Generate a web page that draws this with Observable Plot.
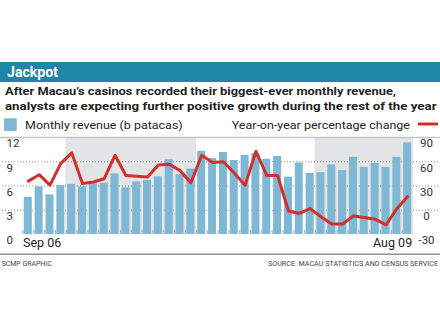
<!DOCTYPE html>
<html>
<head>
<meta charset="utf-8">
<script src="https://cdn.jsdelivr.net/npm/d3@7"></script>
<script src="https://cdn.jsdelivr.net/npm/@observablehq/plot@0.6"></script>
<style>
  html, body { margin: 0; padding: 0; background: #fff; }
  #wrap { position: relative; width: 440px; height: 330px; overflow: hidden; background: #fff; font-family: Roboto, "Noto Sans", sans-serif; }
  #wrap > svg { position: absolute; left: 0; }
</style>
</head>
<body>
<div id="wrap">
  <svg id="head" width="440" height="136" style="top:0">
    <rect x="0" y="62" width="440" height="20" fill="#1f87a6"></rect>
    <text x="7" y="77" font-size="14.5" font-weight="bold" fill="#fff" textLength="51" lengthAdjust="spacingAndGlyphs">Jackpot</text>
    <text x="5" y="95" font-size="11.5" font-weight="bold" fill="#231f20" textLength="391" lengthAdjust="spacingAndGlyphs">After Macau’s casinos recorded their biggest-ever monthly revenue,</text>
    <text x="5" y="110" font-size="11.5" font-weight="bold" fill="#231f20" textLength="431.5" lengthAdjust="spacingAndGlyphs">analysts are expecting further positive growth during the rest of the year</text>
    <rect x="4" y="118.3" width="12.7" height="12.7" fill="#7fb8d5"></rect>
    <text x="25" y="129" font-size="11.5" fill="#231f20" textLength="157.7" lengthAdjust="spacingAndGlyphs">Monthly revenue (b patacas)</text>
    <text x="231.7" y="129" font-size="11.5" fill="#231f20" textLength="178.3" lengthAdjust="spacingAndGlyphs">Year-on-year percentage change</text>
    <line x1="418" x2="438" y1="124" y2="124" stroke="#d3302b" stroke-width="3"></line>
  </svg>
  <div id="chart" style="position:absolute;left:0;top:130px;"></div>
  <svg id="foot" width="440" height="80" style="top:250px">
    <line x1="0" x2="440" y1="4.3" y2="4.3" stroke="#8f8f8f" stroke-width="1.5"></line>
    <text x="1.7" y="15.7" font-size="6.8" fill="#444" textLength="50" lengthAdjust="spacingAndGlyphs">SCMP GRAPHIC</text>
    <text x="268" y="15.7" font-size="6.8" fill="#444" textLength="170" lengthAdjust="spacingAndGlyphs">SOURCE: MACAU STATISTICS AND CENSUS SERVICE</text>
  </svg>
</div>
<script>
// ---- data ----
const months = [
  "Sep 06","Oct 06","Nov 06","Dec 06",
  "Jan 07","Feb 07","Mar 07","Apr 07","May 07","Jun 07","Jul 07","Aug 07","Sep 07","Oct 07","Nov 07","Dec 07",
  "Jan 08","Feb 08","Mar 08","Apr 08","May 08","Jun 08","Jul 08","Aug 08","Sep 08","Oct 08","Nov 08","Dec 08",
  "Jan 09","Feb 09","Mar 09","Apr 09","May 09","Jun 09","Jul 09","Aug 09"
];
const revenue = [
  4.6, 5.9, 4.9, 6.05,
  6.2, 5.9, 6.35, 6.35, 7.5, 5.75, 6.5, 6.7, 7.15, 9.25, 7.4, 8.1,
  10.3, 9.4, 10.15, 9.15, 9.8, 10.0, 9.3, 9.65, 7.1, 8.85, 7.55, 7.65,
  8.6, 7.9, 9.55, 8.3, 8.8, 8.3, 9.55, 11.35
];
const yoyChange = [
  36, 44, 31, 58,
  71, 33, 35, 39, 68, 43, 42, 41, 56, 57, 49, 34,
  68, 59, 60, 46, 31, 73, 43, 43, -1, -4, 2, -8,
  -17, -17, -7, -9, -11, -18, 2, 17
];
const revTicks = [12, 9, 6, 3, 0];
const pctTicks = [90, 60, 30, 0, -30];
const gridLevels = [9, 6, 3];
const topLevel = [12];
const shadeSpans = [["Jan 07", "Dec 07"], ["Dec 08", "Aug 09"]];
const firstLabel = ["Sep 06"];
const lastLabel = ["Aug 09"];

// ---- build table ----
const table = months.map((m, i) => ({month: m, rev: revenue[i], pct: yoyChange[i]}));
const pctToRev = p => (p + 30) / 10; // right axis (-30..90) shares the left axis (0..12)
const shaded = months.filter((m, i) =>
  shadeSpans.some(([a, b]) => i >= months.indexOf(a) && i <= months.indexOf(b)));

const W = 440, H = 125, mL = 21, mR = 26, mT = 7, mB = 21;
const pad = 0.26;
const step = (W - mL - mR) / (months.length + pad);
const bw = step * (1 - pad);

const chart = Plot.plot({
  width: W, height: H,
  marginLeft: mL, marginRight: mR, marginTop: mT, marginBottom: mB,
  x: {type: "band", domain: months, padding: pad, round: false, axis: null},
  y: {domain: [0, 12], axis: null},
  style: {fontFamily: "Roboto, 'Noto Sans', sans-serif", fontSize: "11.5px", color: "#231f20", background: "transparent"},
  marks: [
    Plot.barY(shaded, {x: d => d, y1: 0, y2: 12, fill: "#e3e4e5",
      insetLeft: -step * pad / 2 - 0.4, insetRight: -step * pad / 2 - 0.4}),
    Plot.ruleY(topLevel, {stroke: "#c4c4c4", strokeWidth: 1.5, insetLeft: -mL, insetRight: -mR}),
    Plot.ruleY(gridLevels, {stroke: "#8a8a8a", strokeDasharray: "1,2", insetLeft: -(mL - 2), insetRight: -(mR - 2)}),
    Plot.barY(table, {x: "month", y: "rev", fill: "#7fb8d5"}),
    Plot.ruleX(months, {x: d => d, y1: 0, y2: 0.5, dx: -step / 2, stroke: "#a8a8a8"}),
    Plot.line(table, {x: "month", y: d => pctToRev(d.pct), stroke: "#d3302b", strokeWidth: 3, strokeLinejoin: "round"}),
    Plot.text(revTicks, {y: d => d, text: d => String(d), frameAnchor: "left", textAnchor: "start",
      dx: 6 - mL, dy: 6.3, fill: "#333", fontSize: 11.5}),
    Plot.text(pctTicks, {y: d => pctToRev(d), text: d => String(d), frameAnchor: "right", textAnchor: "middle",
      dx: 426 - (W - mR), dy: 6.3, fill: "#333", fontSize: 11.5}),
    Plot.text(firstLabel, {x: d => d, text: d => d, frameAnchor: "bottom", textAnchor: "start", lineAnchor: "top",
      dx: -bw / 2 - 1.3, dy: 4, fill: "#231f20", fontSize: 12.5}),
    Plot.text(lastLabel, {x: d => d, text: d => d, frameAnchor: "bottom", textAnchor: "end", lineAnchor: "top",
      dx: bw / 2 + 0.5, dy: 4, fill: "#231f20", fontSize: 12.5})
  ]
});
document.getElementById("chart").appendChild(chart);
</script>
</body>
</html>
